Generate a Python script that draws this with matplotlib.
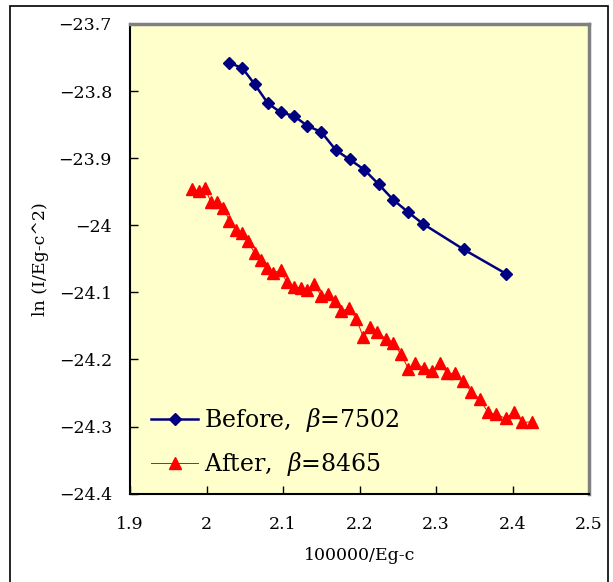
import numpy as np
import matplotlib
matplotlib.use("Agg")
import matplotlib.pyplot as plt
from matplotlib.patches import Rectangle
from matplotlib.ticker import FuncFormatter

plt.rcParams['font.family'] = ['DejaVu Serif']
plt.rcParams['mathtext.fontset'] = 'dejavuserif'

# before treatment
x_before = [2.030, 2.047, 2.063, 2.080, 2.097, 2.114, 2.132, 2.150, 2.169,
            2.187, 2.206, 2.225, 2.244, 2.264, 2.283, 2.336, 2.391]
y_before = [-23.758, -23.766, -23.790, -23.818, -23.832, -23.837, -23.852,
            -23.861, -23.888, -23.902, -23.917, -23.939, -23.962, -23.981,
            -23.998, -24.036, -24.072]

# after treatment
x_after = [1.981, 1.990, 1.998, 2.006, 2.014, 2.022, 2.030, 2.038, 2.046,
           2.054, 2.063, 2.071, 2.079, 2.087, 2.097, 2.105, 2.114, 2.123,
           2.132, 2.141, 2.150, 2.159, 2.168, 2.176, 2.186, 2.196, 2.205,
           2.214, 2.223, 2.234, 2.244, 2.254, 2.264, 2.273, 2.284, 2.295,
           2.305, 2.315, 2.325, 2.335, 2.346, 2.357, 2.368, 2.379, 2.391,
           2.402, 2.413, 2.425]
y_after = [-23.946, -23.949, -23.945, -23.966, -23.966, -23.975, -23.993,
           -24.007, -24.011, -24.023, -24.042, -24.052, -24.064, -24.071,
           -24.067, -24.085, -24.092, -24.093, -24.096, -24.087, -24.106,
           -24.103, -24.113, -24.128, -24.124, -24.140, -24.167, -24.152,
           -24.159, -24.169, -24.175, -24.192, -24.214, -24.205, -24.213,
           -24.217, -24.206, -24.221, -24.221, -24.232, -24.248, -24.259,
           -24.279, -24.282, -24.288, -24.278, -24.294, -24.293]

label_before = r'Before,  $\beta$=7502'
label_after = r'After,  $\beta$=8465'

fig = plt.figure(figsize=(6.13, 5.82), dpi=100)
ax = fig.add_axes([130/613, 1 - 493.6/582, 459/613, 469.7/582])
ax.set_facecolor('#FFFFCC')

ax.plot(x_before, y_before, color='#000080', lw=1.8, marker='D', ms=6,
        label=label_before)
ax.plot(x_after, y_after, color='#FF0000', lw=0.7, marker='^', ms=8,
        label=label_after)

ax.set_xlim(1.9, 2.5)
ax.set_ylim(-24.4, -23.7)
ax.set_xticks(np.arange(1.9, 2.51, 0.1))
ax.set_yticks(np.arange(-24.4, -23.69, 0.1))
fmt = FuncFormatter(lambda v, p: ('%.1f' % v).rstrip('0').rstrip('.').replace('-', '\u2212'))
ax.xaxis.set_major_formatter(fmt)
ax.yaxis.set_major_formatter(fmt)
ax.tick_params(axis='both', direction='in', length=6, width=1, labelsize=12.5)
ax.tick_params(axis='x', pad=16)
ax.tick_params(axis='y', pad=13)

for s in ['left', 'bottom']:
    ax.spines[s].set_color('black')
    ax.spines[s].set_linewidth(1.5)
for s in ['top', 'right']:
    ax.spines[s].set_color('#808080')
    ax.spines[s].set_linewidth(2.5)

ax.set_xlabel('100000/Eg-c', fontsize=12.5, labelpad=10)
ax.set_ylabel('ln (I/Eg-c^2)', fontsize=12.5, labelpad=7)

ax.legend(loc='lower left', bbox_to_anchor=(0.0, -0.013), frameon=False,
          fontsize=17, handlelength=2.0, handletextpad=0.25, labelspacing=0.7)

# outer chart border
fig.add_artist(Rectangle((10/613, -0.01), 598/613, 1 - 6/582 + 0.01,
                         transform=fig.transFigure, fill=False,
                         edgecolor='black', lw=1.2))

fig.savefig('out.png', dpi=100)
